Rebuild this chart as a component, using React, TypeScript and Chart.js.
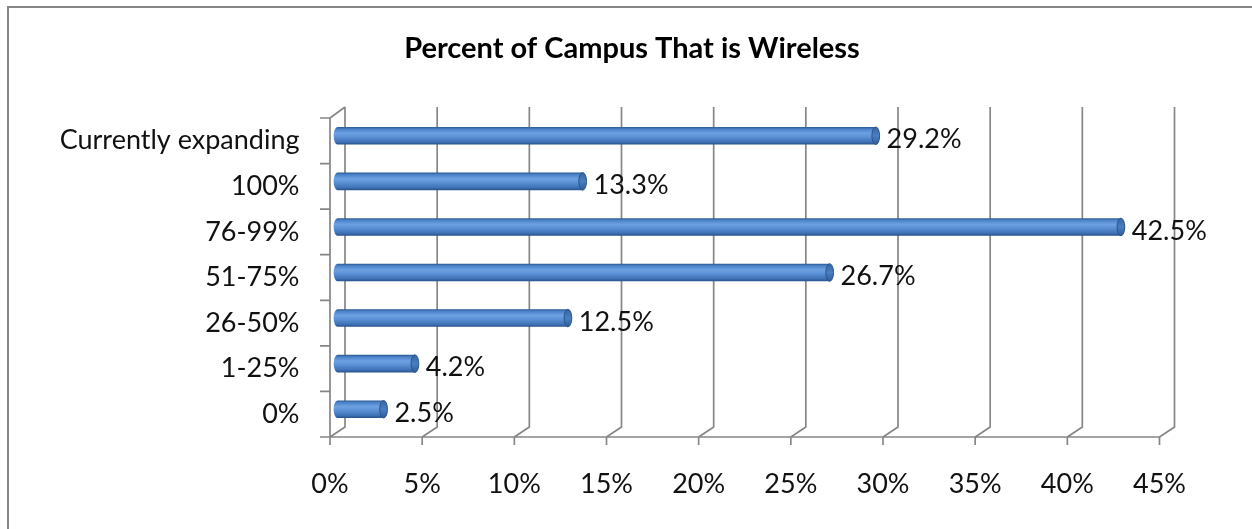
import React, { useEffect, useRef } from 'react';
import { Chart, registerables } from 'chart.js';

Chart.register(...registerables);

const TITLE = 'Percent of Campus That is Wireless';
const categories = ['Currently expanding', '100%', '76-99%', '51-75%', '26-50%', '1-25%', '0%'];
const values = [29.2, 13.3, 42.5, 26.7, 12.5, 4.2, 2.5];
const xMin = 0;
const xMax = 45;
const xStep = 5;

const FONT_FAMILY = 'Lato, Calibri, "Open Sans", sans-serif';
const FONT_SIZE = 27;
const TITLE_SIZE = 29;
const TEXT_COLOR = '#111111';
const GRID_COLOR = '#868686';
const DX = 7.5;
const DY = 5;

const borderPlugin = {
  id: 'outerBorder',
  beforeDraw(chart: any) {
    const { ctx, width, height } = chart;
    ctx.save();
    ctx.fillStyle = '#ffffff';
    ctx.fillRect(0, 0, width, height);
    ctx.fillStyle = '#868686';
    ctx.fillRect(7, 6, width - 7, 2);
    ctx.fillRect(7, 6, 2, height - 6);
    ctx.fillStyle = '#000000';
    ctx.font = `bold ${TITLE_SIZE}px ${FONT_FAMILY}`;
    ctx.textAlign = 'center';
    ctx.textBaseline = 'middle';
    ctx.fillText(TITLE, 632, 49);
    ctx.restore();
  },
};

const wallPlugin = {
  id: 'wall3d',
  beforeDatasetsDraw(chart: any) {
    const { ctx, chartArea: ca, scales } = chart;
    const x = scales.x;
    ctx.save();
    ctx.strokeStyle = GRID_COLOR;
    ctx.lineWidth = 1.7;
    ctx.beginPath();
    const backTop = ca.top - 6;
    const backBot = ca.bottom - DY;
    const frontBot = ca.bottom + DY;
    const frontTop = ca.top + DY;
    x.ticks.forEach((t: any) => {
      const px = x.getPixelForValue(t.value);
      ctx.moveTo(px + DX, backTop);
      ctx.lineTo(px + DX, backBot);
      ctx.lineTo(px - DX, frontBot);
      ctx.lineTo(px - DX, frontBot + 8);
    });
    const x0 = x.getPixelForValue(x.min);
    const x1 = x.getPixelForValue(x.max);
    ctx.moveTo(x0 - DX, frontBot);
    ctx.lineTo(x1 - DX, frontBot);
    ctx.moveTo(x0 + DX, backTop);
    ctx.lineTo(x0 - DX, frontTop);
    ctx.lineTo(x0 - DX, frontBot);
    const n = categories.length;
    const band = (ca.bottom - ca.top) / n;
    for (let k = 0; k <= n; k++) {
      const yy = frontTop + k * band;
      ctx.moveTo(x0 - DX - 10, yy);
      ctx.lineTo(x0 - DX, yy);
    }
    ctx.stroke();
    ctx.restore();
  },
};

const cylinderPlugin = {
  id: 'cylinders',
  afterDatasetsDraw(chart: any) {
    const { ctx } = chart;
    const meta = chart.getDatasetMeta(0);
    ctx.save();
    meta.data.forEach((el: any, i: number) => {
      const { x, y, base, height } = el.getProps(['x', 'y', 'base', 'height'], true);
      const h = height;
      const top = y - h / 2;
      const bot = y + h / 2;
      const rx = h * 0.22;
      const g = ctx.createLinearGradient(0, top, 0, bot);
      g.addColorStop(0, '#2b5890');
      g.addColorStop(0.12, '#4b82c9');
      g.addColorStop(0.35, '#6da1e2');
      g.addColorStop(0.55, '#5d92d7');
      g.addColorStop(0.85, '#3f72b6');
      g.addColorStop(1, '#28528a');
      ctx.beginPath();
      ctx.moveTo(base, top);
      ctx.lineTo(x, top);
      ctx.lineTo(x, bot);
      ctx.lineTo(base, bot);
      ctx.ellipse(base, y, rx, h / 2, 0, Math.PI / 2, Math.PI * 1.5, false);
      ctx.closePath();
      ctx.fillStyle = g;
      ctx.fill();
      ctx.beginPath();
      ctx.ellipse(x, y, rx, h / 2, 0, 0, Math.PI * 2);
      const cg = ctx.createLinearGradient(0, top, 0, bot);
      cg.addColorStop(0, '#3565a3');
      cg.addColorStop(0.5, '#4a7ec2');
      cg.addColorStop(1, '#2f5c97');
      ctx.fillStyle = cg;
      ctx.fill();
      ctx.lineWidth = 1;
      ctx.strokeStyle = '#2a548c';
      ctx.stroke();
      ctx.fillStyle = TEXT_COLOR;
      ctx.font = `${FONT_SIZE}px ${FONT_FAMILY}`;
      ctx.textAlign = 'left';
      ctx.textBaseline = 'middle';
      ctx.fillText(values[i].toFixed(1) + '%', x + rx + 7, y + 4);
    });
    ctx.restore();
  },
};

export default function App() {
  const ref = useRef<HTMLCanvasElement | null>(null);
  useEffect(() => {
    if (!ref.current) return;
    const font = { family: FONT_FAMILY, size: FONT_SIZE, lineHeight: 1.2 };
    const chart = new Chart(ref.current, {
      type: 'bar',
      data: {
        labels: categories,
        datasets: [
          {
            data: values,
            backgroundColor: 'rgba(0,0,0,0)',
            borderWidth: 0,
            barPercentage: 0.385,
            categoryPercentage: 1,
          },
        ],
      },
      options: {
        indexAxis: 'y',
        responsive: false,
        animation: false,
        events: [],
        layout: { padding: { left: 20, right: 85, top: 113, bottom: 0 } },
        plugins: {
          legend: { display: false },
          tooltip: { enabled: false },
          title: { display: false },
        },
        scales: {
          x: {
            type: 'linear',
            min: xMin,
            max: xMax,
            ticks: {
              stepSize: xStep,
              callback: (v: any) => v + '%',
              labelOffset: -DX,
              padding: 36,
              font,
              color: TEXT_COLOR,
              maxRotation: 0,
            },
            grid: { display: false, drawTicks: false },
            border: { display: false },
            afterFit: (s: any) => {
              s.height = 97;
            },
          },
          y: {
            ticks: {
              labelOffset: DY,
              padding: 38,
              font,
              color: TEXT_COLOR,
            },
            grid: { display: false, drawTicks: false },
            border: { display: false },
            afterFit: (s: any) => {
              s.width = 317.5;
            },
          },
        },
      },
      plugins: [borderPlugin, wallPlugin, cylinderPlugin],
    } as any);
    return () => chart.destroy();
  }, []);
  return (
    <canvas
      ref={ref}
      width={1252}
      height={529}
      style={{ position: 'absolute', left: 0, top: 0, display: 'block' }}
    />
  );
}
